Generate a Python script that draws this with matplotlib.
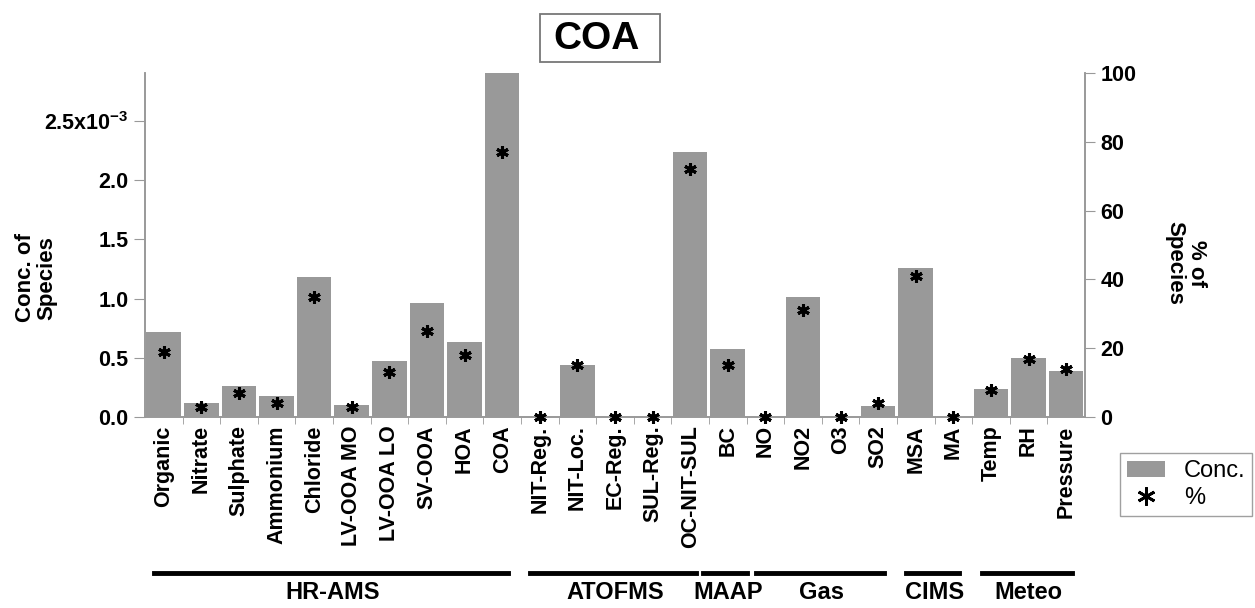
import matplotlib.pyplot as plt
import matplotlib as mpl
from matplotlib.lines import Line2D
from matplotlib.patches import Patch, Rectangle
import numpy as np

plt.rcParams['font.family'] = ['Liberation Sans', 'DejaVu Sans']
plt.rcParams['font.weight'] = 'bold'
plt.rcParams['mathtext.fontset'] = 'custom'
plt.rcParams['mathtext.rm'] = 'Liberation Sans:bold'
plt.rcParams['mathtext.default'] = 'rm'

species = ["Organic", "Nitrate", "Sulphate", "Ammonium", "Chloride",
           "LV-OOA MO", "LV-OOA LO", "SV-OOA", "HOA", "COA",
           "NIT-Reg.", "NIT-Loc.", "EC-Reg.", "SUL-Reg.", "OC-NIT-SUL",
           "BC", "NO", "NO2", "O3", "SO2", "MSA", "MA",
           "Temp", "RH", "Pressure"]

# concentration (units of 1e-3)
conc = [0.72, 0.12, 0.26, 0.18, 1.18,
        0.10, 0.47, 0.96, 0.63, 2.91,
        0.0, 0.44, 0.0, 0.0, 2.24,
        0.575, 0.0, 1.01, 0.0, 0.09, 1.26, 0.0,
        0.235, 0.50, 0.39]

# percent of species
pct = [19, 3, 7, 4, 35,
       3, 13, 25, 18, 77,
       0, 15, 0, 0, 72,
       15, 0, 31, 0, 4, 41, 0,
       8, 17, 14]

groups = ["HR-AMS", "ATOFMS", "MAAP", "Gas", "CIMS", "Meteo"]
group_sizes = [10, 5, 1, 4, 2, 3]

fig = plt.figure(figsize=(12.55, 6.08), dpi=100)
ax = fig.add_axes([0.1155, 0.3141, 0.749, 0.5658])
ax2 = ax.twinx()

x = np.arange(len(species))
ax.bar(x, np.array(conc) * 1e-3, width=0.92, color='#999999', zorder=1)
ax2.plot(x, pct, linestyle='none', marker=(6, 2, 0), ms=9, mew=2.2, color='black',
         zorder=3, clip_on=False)

ax.set_xlim(-0.5, len(species) - 0.5)
ax.set_ylim(0, 2.905e-3)
ax2.set_ylim(0, 100)


def fmt(v, pos):
    if abs(v - 2.5e-3) < 1e-9:
        return r'2.5x10$^{-3}$'
    return f'{v*1e3:.1f}'


ax.set_yticks(np.arange(0, 2.6e-3, 0.5e-3))
ax.yaxis.set_major_formatter(mpl.ticker.FuncFormatter(fmt))
ax2.set_yticks(np.arange(0, 101, 20))

ax.set_xticks(x)
ax.set_xticklabels(species, rotation=90, fontsize=15.5, fontweight='bold')
ax.set_xticks(np.arange(0.5, len(species) - 1, 1), minor=True)
ax.tick_params(axis='x', which='major', length=0, pad=6)
ax.tick_params(axis='x', which='minor', length=5, color='#999999', direction='out')
ax.tick_params(axis='y', length=8, color='#999999', labelsize=15.5, pad=4)
ax2.tick_params(axis='y', length=7, color='#999999', labelsize=15.5, pad=4)
for lab in ax.get_yticklabels() + ax2.get_yticklabels():
    lab.set_fontweight('bold')

for a in (ax, ax2):
    a.spines['top'].set_visible(False)
    for s in ('left', 'right', 'bottom'):
        a.spines[s].set_color('#999999')
        a.spines[s].set_linewidth(1.2)

fig.text(0.029, 0.543, "Conc. of\nSpecies", rotation=90, ha='center', va='center',
         fontsize=16, fontweight='bold', linespacing=1.05)
fig.text(0.945, 0.567, "% of\nSpecies", rotation=270, ha='center', va='center',
         fontsize=16, fontweight='bold', linespacing=1.05)

# title box
fig.add_artist(Rectangle((540 / 1255, 1 - 62 / 608), 120 / 1255, 48 / 608,
                         transform=fig.transFigure, fc='white', ec='#777777', lw=1.3))
fig.text(597 / 1255, 1 - 39 / 608, "COA", ha='center', va='center', fontsize=28,
         fontweight='bold')

# group lines and labels under the category labels
trans = mpl.transforms.blended_transform_factory(ax.transData, fig.transFigure)
start = 0
for g, n in zip(groups, group_sizes):
    end = start + n - 1
    if n == 1:
        x0, x1 = start - 0.65, start + 0.5
    else:
        x0, x1 = start - 0.25, end + 0.15
    fig.add_artist(Line2D([x0, x1], [0.057, 0.057], transform=trans, color='black', lw=3.5))
    fig.text((start + end) / 2, 0.026, g, transform=trans, ha='center', va='center',
             fontsize=17, fontweight='bold')
    start += n

handles = [Patch(facecolor='#999999', edgecolor='none'),
           Line2D([], [], linestyle='none', marker=(6, 2, 0), ms=13, mew=2, color='black')]
fig.legend(handles, ["Conc.", "%"], loc='upper left', bbox_to_anchor=(0.8924, 0.255),
           frameon=True, fancybox=False, edgecolor='#888888',
           prop={'weight': 'normal', 'size': 17}, handlelength=1.6, handletextpad=0.8,
           borderpad=0.3, labelspacing=0.2, borderaxespad=0)

fig.savefig("out.png", dpi=100)
